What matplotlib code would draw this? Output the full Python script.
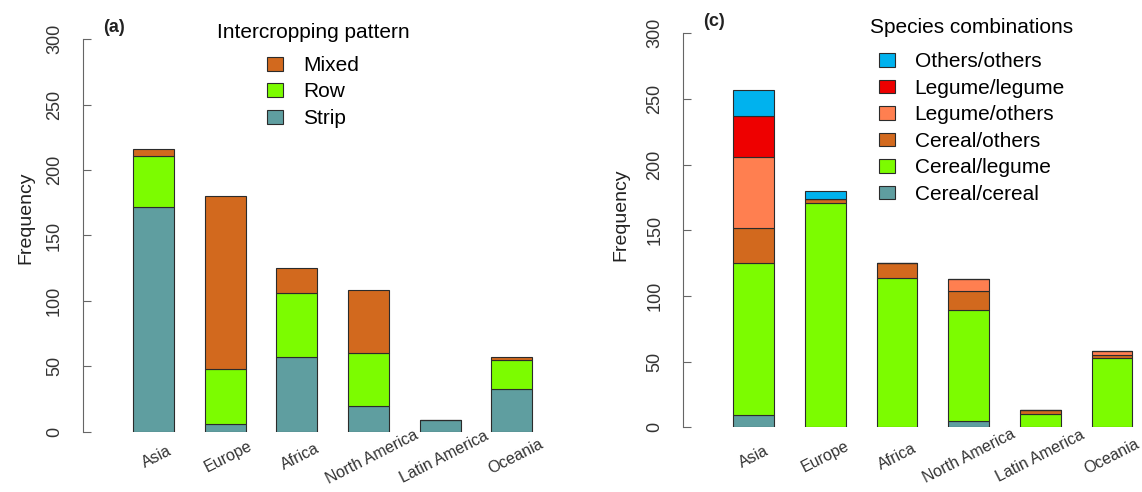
import matplotlib
matplotlib.use("Agg")
import matplotlib.pyplot as plt
import numpy as np

plt.rcParams['font.family'] = ['Liberation Sans', 'DejaVu Sans']

regions = ["Asia", "Europe", "Africa", "North America", "Latin America", "Oceania"]

# (a) Intercropping pattern
strip = [172, 6, 57, 20, 9, 33]
row = [39, 42, 49, 40, 0, 22]
mixed = [5, 132, 19, 48, 0, 2]

# (c) Species combinations
cereal_cereal = [9, 0, 0, 5, 0, 0]
cereal_legume = [116, 171, 114, 84, 10, 53]
cereal_others = [27, 3, 11, 15, 3, 2]
legume_others = [54, 0, 0, 9, 0, 3]
legume_legume = [31, 0, 0, 0, 0, 0]
others_others = [20, 6, 0, 0, 0, 0]

W, H = 1142, 492
fig = plt.figure(figsize=(W / 100, H / 100), dpi=100)

ax1 = fig.add_axes([82.5 / W, 60.3 / H, 458 / W, 392.4 / H])
ax2 = fig.add_axes([682.7 / W, 64.7 / H, 458 / W, 394 / H])

edge = "#2b2b2b"


def stacked(ax, layers, colors, names):
    x = np.arange(len(regions))
    bottom = np.zeros(len(regions))
    handles = []
    for vals, col, name in zip(layers, colors, names):
        vals = np.array(vals, dtype=float)
        b = ax.bar(x, vals, 0.57, bottom=bottom, color=col, edgecolor=edge,
                   linewidth=0.8, label=name)
        handles.append(b)
        bottom += vals
    return handles


def style(ax, pad_x, shift):
    ax.set_xlim(-0.99, 5.4)
    ax.set_ylim(0, 300)
    for s in ["top", "right", "bottom"]:
        ax.spines[s].set_visible(False)
    ax.spines["left"].set_color("#666666")
    ax.spines["left"].set_bounds(0, 300)
    ax.set_yticks([0, 50, 100, 150, 200, 250, 300])
    ax.tick_params(axis="y", direction="in", length=6, color="#666666",
                   labelsize=13, labelcolor="#333333", pad=14, labelrotation=90)
    for lab in ax.get_yticklabels():
        lab.set_va("center")
    ax.set_xticks(np.arange(len(regions)) + shift)
    ax.set_xticklabels(regions, rotation=27, ha="center", va="center",
                       rotation_mode="anchor", fontsize=11.5, color="#333333")
    ax.tick_params(axis="x", length=0, pad=pad_x)
    ax.set_ylabel("Frequency", fontsize=14, color="#222222")


def add_legend(ax, handles, title, anchor, gap):
    leg = ax.legend(handles=handles, title=title, frameon=False,
                    fontsize=15, title_fontsize=15, loc="upper center",
                    bbox_to_anchor=anchor, bbox_transform=fig.transFigure,
                    borderpad=0, borderaxespad=0, handlelength=0.75,
                    handleheight=0.65, handletextpad=0.95, labelspacing=0.36)
    leg._legend_box.sep = gap
    return leg


h1 = stacked(ax1, [strip, row, mixed],
             ["#5F9EA0", "#7CFC00", "#D2691E"],
             ["Strip", "Row", "Mixed"])
style(ax1, 18, 0.05)
ax1.yaxis.set_label_coords(-0.104, 0.545)
add_legend(ax1, h1[::-1], "Intercropping pattern", (313 / W, 1 - 23 / H), 10)

h2 = stacked(ax2, [cereal_cereal, cereal_legume, cereal_others,
                   legume_others, legume_legume, others_others],
             ["#5F9EA0", "#7CFC00", "#D2691E", "#FF7F50", "#EE0000", "#00B2EE"],
             ["Cereal/cereal", "Cereal/legume", "Cereal/others",
              "Legume/others", "Legume/legume", "Others/others"])
style(ax2, 21, 0.0)
ax2.yaxis.set_label_coords(-0.116, 0.54)
add_legend(ax2, h2[::-1], "Species combinations", (972 / W, 1 - 18 / H), 11)

fig.text(114 / W, 1 - 27 / H, "(a)", ha="center", va="center",
         fontsize=13, fontweight="bold", color="#222222")
fig.text(714 / W, 1 - 21 / H, "(c)", ha="center", va="center",
         fontsize=13, fontweight="bold", color="#222222")

fig.savefig("out.png", dpi=100)
